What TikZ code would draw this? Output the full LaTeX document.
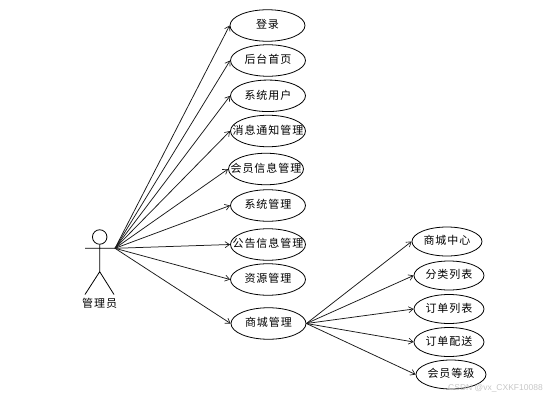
\documentclass[tikz,border=0pt]{standalone}
\usepackage{fontspec}
\setmainfont{Noto Sans CJK SC}[LetterSpace=9]
\usetikzlibrary{shapes.geometric,arrows.meta}
\newcommand{\uctext}[1]{\raisebox{-0.6em}{\smash{\makebox[0pt][c]{#1}}}}
\tikzset{
  x=1pt,y=-1pt,
  usecase/.style={ellipse,draw,line width=0.8pt,inner sep=0pt,minimum width=75pt,minimum height=31.5pt,font=\fontsize{11}{12}\selectfont},
  subcase/.style={usecase,minimum width=70pt,minimum height=29pt},
  link/.style={draw=black!90,line width=0.75pt,-{Straight Barb[length=4.5pt,width=6pt,line width=0.65pt]}},
  stick/.style={draw,line width=0.8pt},
  actorlabel/.style={inner sep=0pt,font=\fontsize{11}{12}\selectfont},
  mark text/.style={inner sep=0pt,text=black!22,font=\fontsize{8.5}{10}\selectfont}
}
\begin{document}
\begin{tikzpicture}
\useasboundingbox (0,0) rectangle (547,400);
\node[circle,draw,line width=0.8pt,minimum size=14.5pt,inner sep=0pt] (head) at (99.7,237) {};
\coordinate (armL) at (85,248.3);
\coordinate (hand) at (115,248.3);
\coordinate (hip) at (99.7,271.7);
\coordinate (footL) at (85,294.5);
\coordinate (footR) at (114,294.5);
\draw[stick] (head.south) -- (hip) -- (footL) (hip) -- (footR) (armL) -- (hand);
\node[actorlabel] (actor) at (99.7,303.5) {管理员};

\node[usecase] (u1) at (267.5,25.5) {\uctext{登录}};
\node[usecase] (u2) at (268,60.5) {\uctext{后台首页}};
\node[usecase] (u3) at (268,95.8) {\uctext{系统用户}};
\node[usecase] (u4) at (268,131) {\uctext{消息通知管理}};
\node[usecase] (u5) at (266,169) {\uctext{会员信息管理}};
\node[usecase] (u6) at (268,205.5) {\uctext{系统管理}};
\node[usecase] (u7) at (268,244.5) {\uctext{公告信息管理}};
\node[usecase] (u8) at (268,279.5) {\uctext{资源管理}};
\node[usecase] (u9) at (268.5,323.5) {\uctext{商城管理}};

\node[subcase] (s1) at (447,241.5) {\uctext{商城中心}};
\node[subcase] (s2) at (449,275.5) {\uctext{分类列表}};
\node[subcase] (s3) at (449,309) {\uctext{订单列表}};
\node[subcase] (s4) at (449,342) {\uctext{订单配送}};
\node[subcase] (s5) at (451,374.5) {\uctext{会员等级}};

\foreach \n in {u1,u2,u3,u4,u5,u6,u7,u8,u9}
  \draw[link] (hand) -- (\n.west);
\foreach \n in {s1,s2,s3,s4,s5}
  \draw[link] (u9.east) -- (\n.west);

\node[mark text,anchor=east] (wm) at (543,388) {\fontspec{Liberation Sans}CSDN @vx\_CXKF10088};
\end{tikzpicture}
\end{document}
